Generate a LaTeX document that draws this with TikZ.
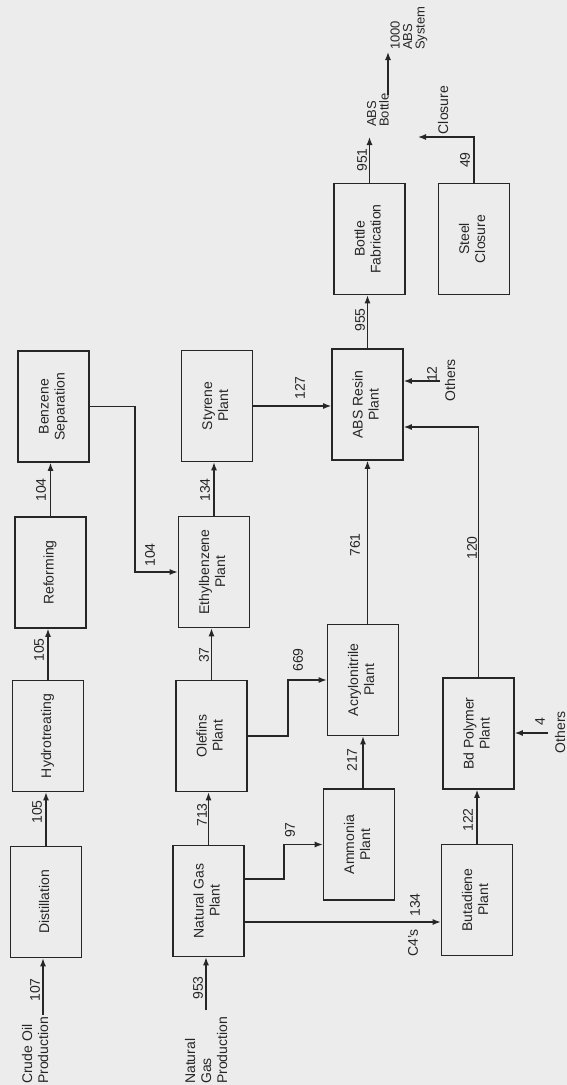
\documentclass[tikz,border=0pt]{standalone}
\usepackage{fontspec}
\setmainfont{Liberation Sans}
\usetikzlibrary{arrows.meta}
\definecolor{paper}{RGB}{236,236,236}
\definecolor{ink}{RGB}{38,38,38}
% upright box captions are turned a quarter turn to read bottom to top
\newcommand{\boxtext}[1]{\rotatebox{90}{\begin{tabular}{@{}c@{}}#1\end{tabular}}}
\begin{document}
\begin{tikzpicture}[x=1pt, y=-1pt,
  unit/.style={draw=ink, line width=1.6pt, minimum width=71pt, minimum height=111pt,
               inner sep=0pt, text=ink, font=\fontsize{14}{16}\selectfont},
  lab/.style={rotate=90, inner sep=0pt, text=ink, font=\fontsize{14}{16}\selectfont},
  small/.style={rotate=90, inner sep=0pt, text=ink, font=\fontsize{13}{12.5}\selectfont},
  flow/.style={draw=ink, line width=1.3pt, -{Latex[length=8pt,width=6pt]}},
  pipe/.style={draw=ink, line width=1.3pt}]
\fill[paper] (0,0) rectangle (567,1085);
\useasboundingbox (0,0) rectangle (567,1085);

% process units
\node[unit] (dist)   at (46,902)    {\boxtext{Distillation}};
\node[unit] (hydro)  at (48,736)    {\boxtext{Hydrotreating}};
\node[unit] (reform) at (50.5,572.5){\boxtext{Reforming}};
\node[unit] (benz)   at (53.5,406.5){\boxtext{Benzene\\Separation}};
\node[unit] (ng)     at (208.5,901) {\boxtext{Natural Gas\\Plant}};
\node[unit] (olef)   at (211.5,736) {\boxtext{Olefins\\Plant}};
\node[unit] (ethyl)  at (214,572)   {\boxtext{Ethylbenzene\\Plant}};
\node[unit] (styr)   at (217,406)   {\boxtext{Styrene\\Plant}};
\node[unit] (amm)    at (359,844.5) {\boxtext{Ammonia\\Plant}};
\node[unit] (acry)   at (363,680)   {\boxtext{Acrylonitrile\\Plant}};
\node[unit] (abs)    at (367.5,404.5){\boxtext{ABS Resin\\Plant}};
\node[unit] (bottle) at (369.5,239) {\boxtext{Bottle\\Fabrication}};
\node[unit] (buta)   at (477,900)   {\boxtext{Butadiene\\Plant}};
\node[unit] (bdp)    at (478.5,733.5){\boxtext{Bd Polymer\\Plant}};
\node[unit] (steel)  at (474,239)   {\boxtext{Steel\\Closure}};

% feed and product texts
\node[lab, anchor=west, align=left] (crudetxt) at (35,1084) {Crude Oil\\Production};
\node[lab, anchor=west, align=left] (gastxt) at (206,1084) {Natural\\Gas\\Production};
\node[small, anchor=west, align=left] (bottletxt) at (378,127) {ABS\\Bottle};
\node[small, anchor=west, align=left] (systxt) at (409,50) {1000\\ABS\\System};
\node[lab] (closuretxt) at (443,110) {Closure};
\node[lab] (oth12) at (450,380) {Others};
\node[lab] (oth4) at (560,732) {Others};

% free ends and bends
\coordinate (crude) at (43,1015);
\coordinate (gasin) at (206,1010);
\coordinate (j104) at (135,490);
\coordinate (j97) at (284,862);
\coordinate (c4) at ([yshift=-21pt]ng.east);
\coordinate (j669) at (288,710);
\coordinate (absout) at (369,137);
\coordinate (sysfrom) at (388,95);
\coordinate (systo) at (388,52);
\coordinate (clout) at (418,137);
\coordinate (o12) at (440,381);
\coordinate (j120) at (480,427);
\coordinate (o4) at (548,733);

% streams
\draw[flow] (crude) -- (crude |- dist.south);
\draw[flow] (dist.north) -- (dist.north |- hydro.south);
\draw[flow] (hydro.north) -- (hydro.north |- reform.south);
\draw[flow] (reform.north) -- (reform.north |- benz.south);
\draw[flow] (benz.east) -| (j104) |- (ethyl.west);
\draw[flow] (gasin) -- (gasin |- ng.south);
\draw[flow] (ng.north) -- (ng.north |- olef.south);
\draw[flow] (olef.north) -- (olef.north |- ethyl.south);
\draw[flow] (ethyl.north) -- (ethyl.north |- styr.south);
\draw[flow] ([yshift=22pt]ng.east) -| (j97) |- (amm.west);
\draw[flow] (c4) -- (c4 -| buta.west);
\draw[flow] (acry.south |- amm.north) -- (acry.south);
\draw[flow] (olef.east) -| (j669) |- (acry.west);
\draw[flow] (abs.south |- acry.north) -- (abs.south);
\draw[flow] (styr.east) -- (styr.east -| abs.west);
\draw[flow] (abs.north) -- (abs.north |- bottle.south);
\draw[flow] (bottle.north) -- (bottle.north |- absout);
\draw[flow] (sysfrom) -- (systo);
\draw[flow] (steel.north) |- (clout);
\draw[flow] (o12) -- (o12 -| abs.east);
\draw[flow] (bdp.north) |- (j120 -| abs.east);
\draw[flow] (buta.north) -- (buta.north |- bdp.south);
\draw[flow] (o4) -- (o4 -| bdp.east);

% stream quantities
\node[lab] at (35,990) {107};
\node[lab] at (37,812) {105};
\node[lab] at (39,650) {105};
\node[lab] at (41,490) {104};
\node[lab] at (150,555) {104};
\node[lab] at (204,655) {37};
\node[lab] at (205,490) {134};
\node[lab] at (300,388) {127};
\node[lab] at (202,815) {713};
\node[lab] at (198,988) {953};
\node[lab] at (290,830) {97};
\node[lab] at (415,905) {134};
\node[lab] at (413,943) {C4's};
\node[lab] at (352,760) {217};
\node[lab] at (298,660) {669};
\node[lab] at (355,545) {761};
\node[lab] at (472,548) {120};
\node[lab] at (468,820) {122};
\node[lab] at (360,320) {955};
\node[lab] at (362,160) {951};
\node[lab] at (465,160) {49};
\node[lab] at (432,374) {12};
\node[lab] at (540,722) {4};
\end{tikzpicture}
\end{document}
